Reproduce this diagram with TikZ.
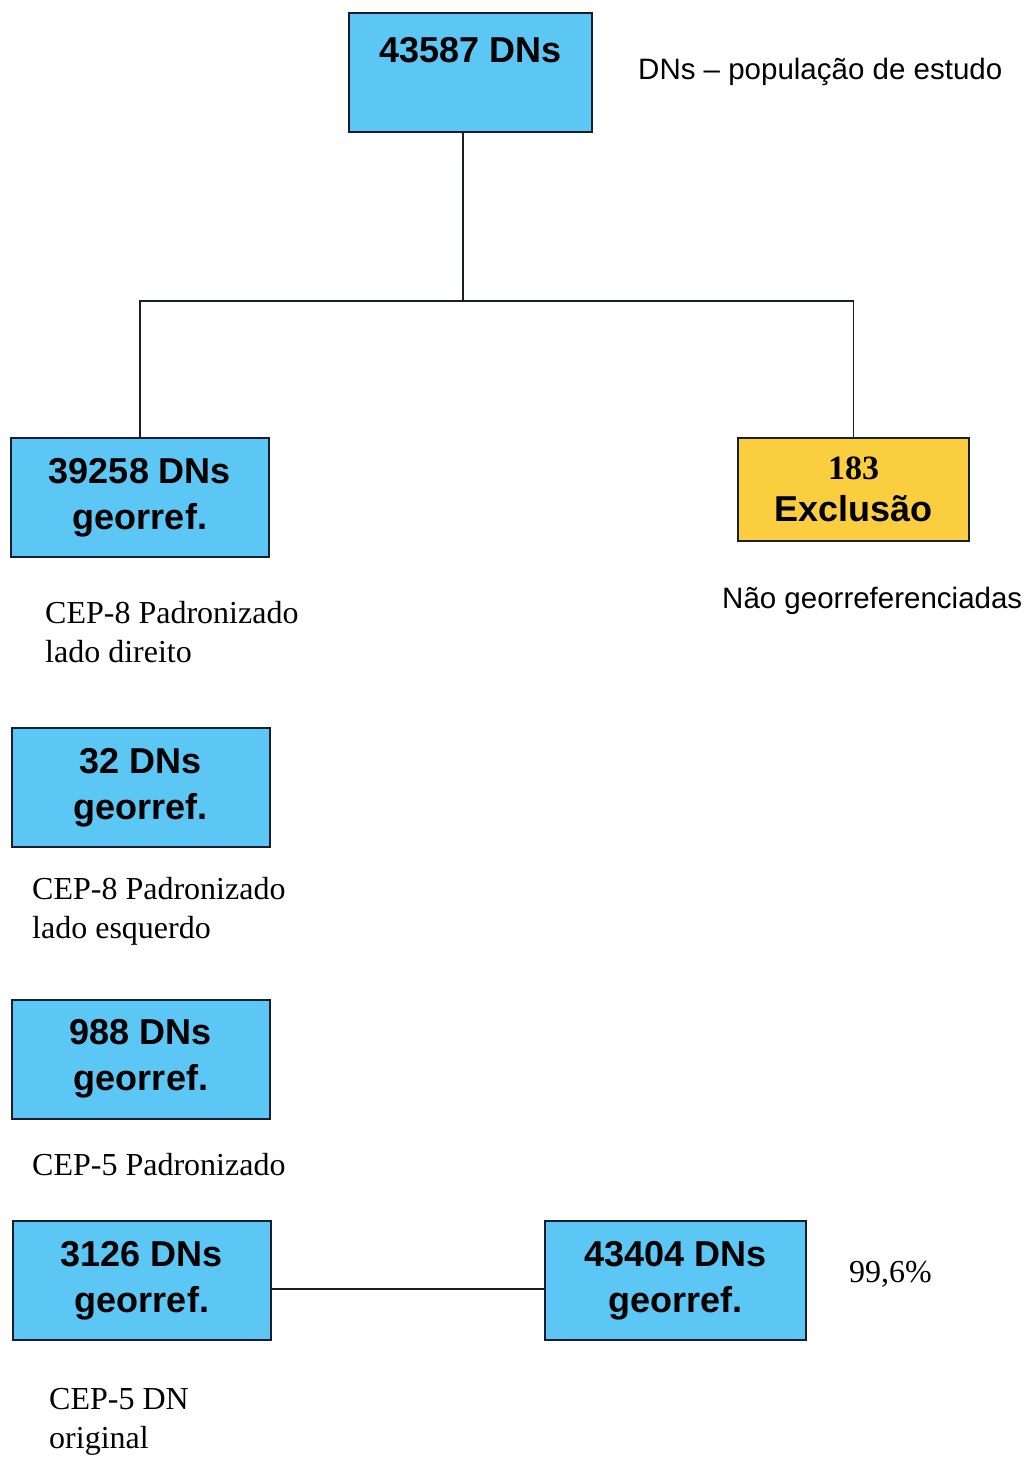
\documentclass[tikz,border=0pt]{standalone}
\usepackage{fontspec}
\setmainfont{Liberation Serif}
\newfontfamily\arialfont[Ligatures=TeX]{Liberation Sans}

% Define colors
\definecolor{boxblue}{RGB}{92,198,244}
\definecolor{boxyellow}{RGB}{250,206,62}
\definecolor{boxline}{RGB}{25,30,45}

\begin{document}
\begin{tikzpicture}[
    x=1pt, y=-1pt,
    countbox/.style={
        draw=boxline,
        fill=boxblue,
        line width=2pt,
        minimum width=258pt,
        minimum height=119pt,
        inner sep=0pt,
        align=center,
        font=\arialfont\bfseries\fontsize{36}{46}\selectfont
    },
    exclbox/.style={
        countbox,
        fill=boxyellow,
        minimum width=231pt,
        minimum height=103pt,
        font=\arialfont\bfseries\fontsize{36}{42}\selectfont
    },
    notelabel/.style={
        font=\fontsize{32}{39}\selectfont,
        align=left,
        anchor=west,
        inner sep=0pt
    },
    sidelabel/.style={
        font=\arialfont\fontsize{29.5}{36}\selectfont,
        anchor=west,
        inner sep=0pt
    },
    link/.style={
        draw=boxline,
        line width=1.5pt
    }
]
\useasboundingbox (0,0) rectangle (1027,1457);

% ============ STUDY POPULATION ============
\node[countbox, minimum width=243pt] (popbox) at (470.5, 72.5) {43587 DNs\\\mbox{}};
\node[sidelabel] (popnote) at (638, 72) {DNs – população de estudo};

% ============ FIRST SPLIT ============
\node[countbox] (georight) at (140, 497.5) {39258 DNs\\georref.};
\node[notelabel] (rightnote) at (45, 632.5) {CEP-8 Padronizado\\lado direito};

\node[exclbox] (exclbox) at (853.5, 489.5) {{\rmfamily\fontsize{34}{42}\selectfont 183}\\Exclusão};
\node[sidelabel] (exclnote) at (722, 601) {Não georreferenciadas};

% Tree edges
\coordinate (split) at (463, 301);
\draw[link] (popbox.south -| split) -- (split);
\draw[link] (georight.north) |- (split) -| (exclbox.north);

% ============ FURTHER MATCHES ============
\node[countbox] (geoleft) at (140.5, 787.5) {32 DNs\\georref.};
\node[notelabel] (leftnote) at (32, 911) {CEP-8 Padronizado\\lado esquerdo};

\node[countbox] (geocep5) at (141, 1059) {988 DNs\\georref.};
\node[notelabel] (cep5note) at (32, 1165) {CEP-5 Padronizado};

\node[countbox] (geoorig) at (142, 1280.5) {3126 DNs\\georref.};
\node[notelabel] (orignote) at (49, 1422) {CEP-5 DN\\original};

% ============ TOTAL ============
\node[countbox, minimum width=261pt] (total) at (675.5, 1280.5) {43404 DNs\\georref.};
\node[notelabel] (pctnote) at (849, 1274) {99,6\%};

\draw[link] ([yshift=-8.5pt]geoorig.east) -- ([yshift=-8.5pt]total.west);

\end{tikzpicture}
\end{document}
